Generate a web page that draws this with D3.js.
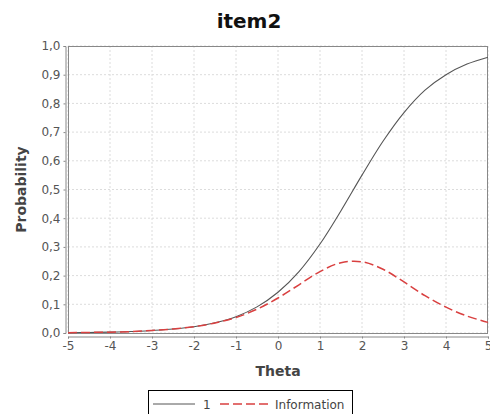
<!DOCTYPE html>
<html><head><meta charset="utf-8">
<script src="https://cdn.jsdelivr.net/npm/d3@7"></script>
<style>body{margin:0;background:#fff}svg{display:block}</style>
</head><body>
<script>
const title = "item2";
const xLabel = "Theta";
const yLabel = "Probability";
const theta = [-5,-4.5,-4,-3.5,-3,-2.5,-2,-1.5,-1,-0.5,0,0.5,1,1.5,2,2.5,3,3.5,4,4.5,5];
const probability = [0.001,0.002,0.003,0.005,0.009,0.014,0.022,0.036,0.057,0.091,0.142,0.214,0.31,0.426,0.55,0.668,0.768,0.846,0.90,0.937,0.961];
const information = [0.001,0.002,0.003,0.005,0.009,0.014,0.022,0.035,0.054,0.083,0.122,0.168,0.214,0.245,0.248,0.222,0.178,0.13,0.09,0.059,0.037];
const seriesNames = ["1","Information"];
const xTicks = [-5,-4,-3,-2,-1,0,1,2,3,4,5];
const yTicks = [0,0.1,0.2,0.3,0.4,0.5,0.6,0.7,0.8,0.9,1.0];

const W=490,H=414;
const L=68,R=488,T=46,B=333;
const svg=d3.select("body").append("svg").attr("width",W).attr("height",H);
const font="'DejaVu Sans', sans-serif";
const x=d3.scaleLinear().domain([-5,5]).range([L,R]);
const y=d3.scaleLinear().domain([0,1]).range([B,T]);

// grid
const g=svg.append("g");
g.selectAll(".vg").data(xTicks).join("line")
 .attr("x1",d=>x(d)).attr("x2",d=>x(d)).attr("y1",T).attr("y2",B)
 .attr("stroke","#dcdcdc").attr("stroke-width",1).attr("stroke-dasharray","2,2");
g.selectAll(".hg").data(yTicks).join("line")
 .attr("x1",L).attr("x2",R).attr("y1",d=>y(d)).attr("y2",d=>y(d))
 .attr("stroke","#dcdcdc").attr("stroke-width",1).attr("stroke-dasharray","2,2");

// plot border
svg.append("rect").attr("x",L+0.5).attr("y",T+0.5).attr("width",R-L-1).attr("height",B-T)
 .attr("fill","none").attr("stroke","#888").attr("stroke-width",1);

// axes
const fmt=d=>d3.format(".1f")(d).replace(".",",");
const xAxis=svg.append("g").attr("transform",`translate(0,${B+3.5})`)
 .call(d3.axisBottom(x).tickValues(xTicks).tickSize(2).tickPadding(3).tickFormat(d=>String(d)));
const yAxis=svg.append("g").attr("transform",`translate(${L-2.5},0)`)
 .call(d3.axisLeft(y).tickValues(yTicks).tickSize(2).tickPadding(3).tickFormat(fmt));
[xAxis,yAxis].forEach(a=>{
  a.select(".domain").attr("stroke","#888");
  a.selectAll(".tick line").attr("stroke","#888");
  a.selectAll("text").attr("fill","#555").style("font-family",font).style("font-size","12px");
});

// lines
const pts1=theta.map((t,i)=>[t,probability[i]]);
const pts2=theta.map((t,i)=>[t,information[i]]);
const line=d3.line().x(d=>x(d[0])).y(d=>y(d[1])).curve(d3.curveCatmullRom.alpha(0.5));
svg.append("path").attr("d",line(pts1)).attr("fill","none").attr("stroke","#555").attr("stroke-width",1.1);
svg.append("path").attr("d",line(pts2)).attr("fill","none").attr("stroke","#d94040").attr("stroke-width",1.5).attr("stroke-dasharray","9,4");

// titles
svg.append("text").attr("x",249).attr("y",28).attr("text-anchor","middle")
 .style("font-family",font).style("font-weight","bold").style("font-size","20px").attr("fill","#111").text(title);
svg.append("text").attr("x",(L+R)/2).attr("y",376).attr("text-anchor","middle")
 .style("font-family",font).style("font-weight","bold").style("font-size","14px").attr("fill","#444").text(xLabel);
svg.append("text").attr("transform",`translate(26,${(T+B)/2}) rotate(-90)`).attr("text-anchor","middle")
 .style("font-family",font).style("font-weight","bold").style("font-size","14px").attr("fill","#444").text(yLabel);

// legend
const lg=svg.append("g");
lg.append("rect").attr("x",148.5).attr("y",390.5).attr("width",204).attr("height",30)
 .attr("fill","#fff").attr("stroke","#000").attr("stroke-width",1);
const ly=404;
lg.append("line").attr("x1",153).attr("x2",195).attr("y1",ly).attr("y2",ly).attr("stroke","#555").attr("stroke-width",1);
lg.append("text").attr("x",203).attr("y",ly+4.5).style("font-family",font).style("font-size","12px").attr("fill","#444").text(seriesNames[0]);
lg.append("line").attr("x1",220).attr("x2",268).attr("y1",ly).attr("y2",ly).attr("stroke","#d94040").attr("stroke-width",1.5).attr("stroke-dasharray","9,4");
lg.append("text").attr("x",275).attr("y",ly+4.5).style("font-family",font).style("font-size","12px").attr("fill","#444").text(seriesNames[1]);
</script>
</body></html>
